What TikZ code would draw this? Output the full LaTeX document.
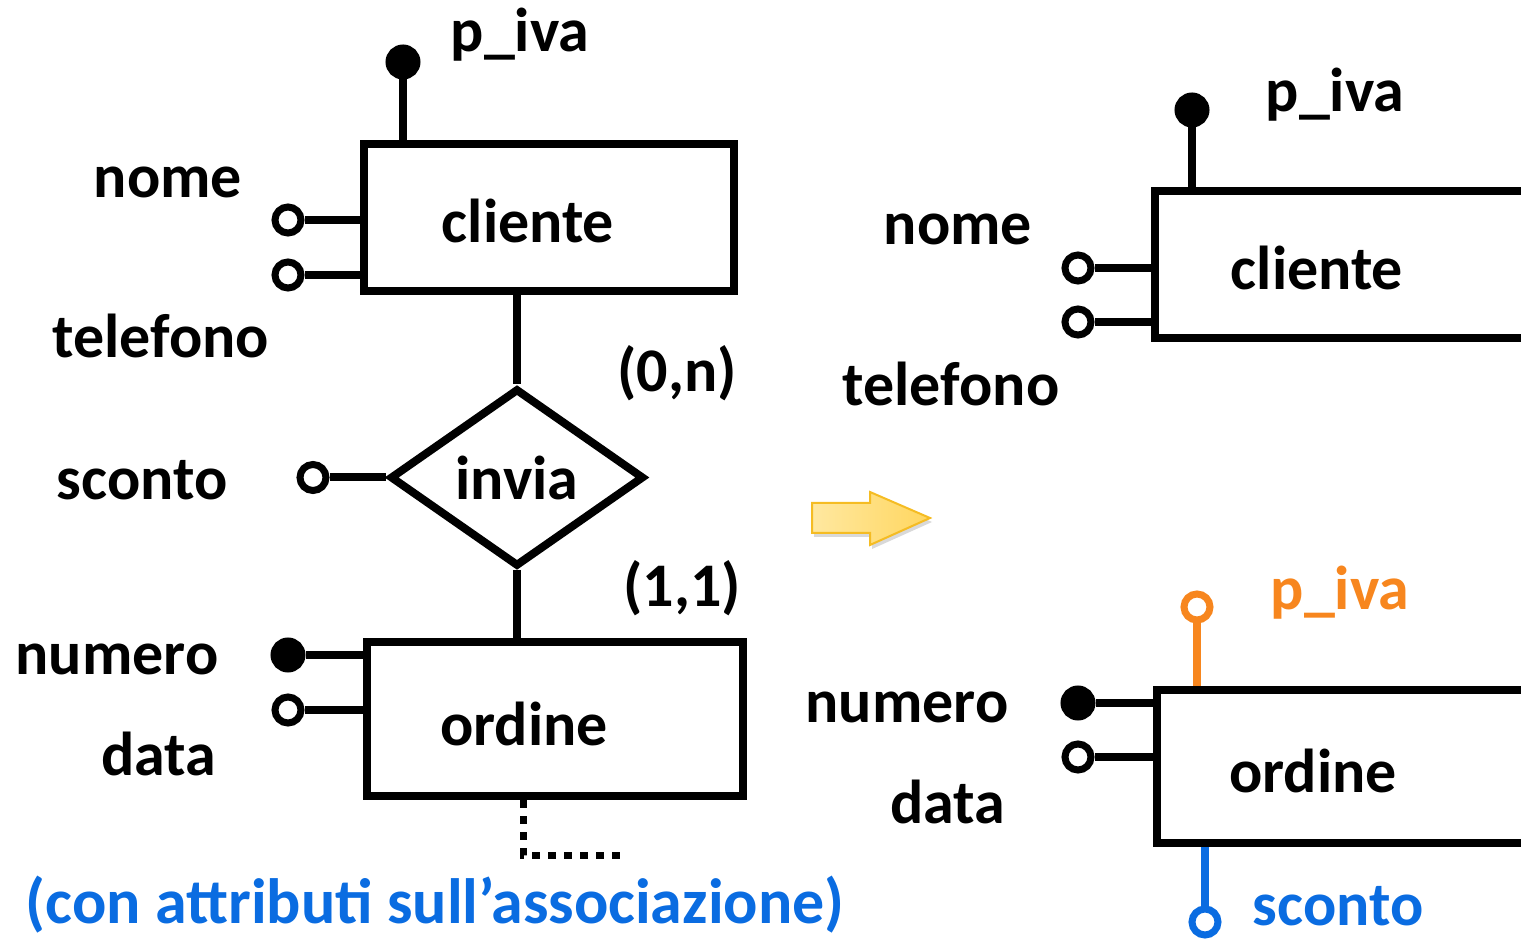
\documentclass[tikz,border=0pt]{standalone}
\usepackage{fontspec}
\setmainfont{Carlito}
\usetikzlibrary{shapes.geometric,shadows}
\definecolor{ivaorange}{RGB}{247,134,30}
\definecolor{scontoblue}{RGB}{10,108,225}
\definecolor{arrowlight}{RGB}{255,232,160}
\definecolor{arrowdark}{RGB}{255,214,95}
\definecolor{arrowline}{RGB}{245,188,35}
\begin{document}
\begin{tikzpicture}[
  x = 0.5pt, y = -0.5pt,
  every node/.style={font=\fontsize{31}{37}\selectfont\bfseries},
  entity/.style={draw, line width=4.2pt, inner sep=0pt},
  relation/.style={diamond, draw, line width=4pt, inner sep=0pt,
    minimum width=127pt, minimum height=89pt},
  attr/.style={circle, draw, line width=3.5pt, fill=white, inner sep=0pt, minimum size=13pt},
  key/.style={attr, fill=black, minimum size=14pt},
  link/.style={line width=4pt},
  dotline/.style={line width=3.5pt, dash pattern=on 4pt off 4pt},
  txt/.style={anchor=base}
]
\useasboundingbox (0,0) rectangle (1521,940);
\clip (0,0) rectangle (1521,940);

%left: cliente
\node[entity, minimum width=185pt, minimum height=73.5pt] (cli) at (549,217.5) {};
\node[txt] (clit) at (528,243) {cliente};
\node[key] (piva) at (403,62) {};
\draw[link] (piva) -- (piva |- cli.north);
\node[txt] (pivat) at (520,52) {p\_iva};
\node[attr] (nome) at (288,220) {};
\draw[link] (nome) -- (nome -| cli.west);
\node[txt] (nomet) at (168,198) {nome};
\node[attr] (tel) at (288,275) {};
\draw[link] (tel) -- (tel -| cli.west);
\node[txt] (telt) at (161,358) {telefono};

%left: invia
\node[relation] (inv) at (517,477.5) {invia};
\draw[link] (cli.south -| inv.north) -- (inv.north);
\node (card1) at (677,373) {(0,n)};
\node[attr] (sco) at (313,477.5) {};
\draw[link] (sco) -- (inv.west);
\node[txt] (scot) at (142,500) {sconto};

%left: ordine
\node[entity, minimum width=188pt, minimum height=77pt] (ord) at (555,719) {};
\node[txt] (ordt) at (524,745) {ordine};
\draw[link] (inv.south) -- (inv.south |- ord.north);
\node (card2) at (682,588) {(1,1)};
\node[key] (num) at (288,655) {};
\draw[link] (num) -- (num -| ord.west);
\node[txt] (numt) at (117,675) {numero};
\node[attr] (dat) at (288,710) {};
\draw[link] (dat) -- (dat -| ord.west);
\node[txt] (datt) at (159,776) {data};
\coordinate (dotcorner) at (523,855);
\coordinate (dotend) at (622,855);
\draw[dotline] (ord.south -| dotcorner) -- (dotcorner) -- (dotend);
\node[text=scontoblue, font=\fontsize{32}{38}\selectfont\bfseries] (note) at (435,905) {(con attributi sull’associazione)};

%arrow
\draw[arrowline, line width=1pt, left color=arrowlight, right color=arrowdark,
  drop shadow={opacity=0.3, shadow xshift=1pt, shadow yshift=-2pt}]
  (812,503) -- (870,503) -- (870,492) -- (930,518) -- (870,545) -- (870,533) -- (812,533) -- cycle;

%right: cliente
\node[entity, minimum width=200pt, minimum height=73.5pt] (cli2) at (1355,264.5) {};
\node[txt] (cli2t) at (1317,290) {cliente};
\node[key] (piva2) at (1192,110) {};
\draw[link] (piva2) -- (piva2 |- cli2.north);
\node[txt] (piva2t) at (1335,112) {p\_iva};
\node[attr] (nome2) at (1078,268) {};
\draw[link] (nome2) -- (nome2 -| cli2.west);
\node[txt] (nome2t) at (958,245) {nome};
\node[attr] (tel2) at (1078,322) {};
\draw[link] (tel2) -- (tel2 -| cli2.west);
\node[txt] (tel2t) at (951,406) {telefono};

%right: ordine
\node[entity, minimum width=200pt, minimum height=76.5pt] (ord2) at (1357,766.5) {};
\node[txt] (ord2t) at (1313,792) {ordine};
\node[attr, draw=ivaorange] (piva3) at (1197,607) {};
\draw[link, ivaorange] (piva3) -- (piva3 |- ord2.north);
\node[txt, text=ivaorange] (piva3t) at (1340,610) {p\_iva};
\node[key] (num2) at (1078,703) {};
\draw[link] (num2) -- (num2 -| ord2.west);
\node[txt] (num2t) at (907,722) {numero};
\node[attr] (dat2) at (1078,757) {};
\draw[link] (dat2) -- (dat2 -| ord2.west);
\node[txt] (dat2t) at (948,823) {data};
\node[attr, draw=scontoblue] (sco2) at (1205,922) {};
\draw[link, scontoblue] (sco2) -- (sco2 |- ord2.south);
\node[txt, text=scontoblue] (sco2t) at (1338,925) {sconto};

\end{tikzpicture}
\end{document}
